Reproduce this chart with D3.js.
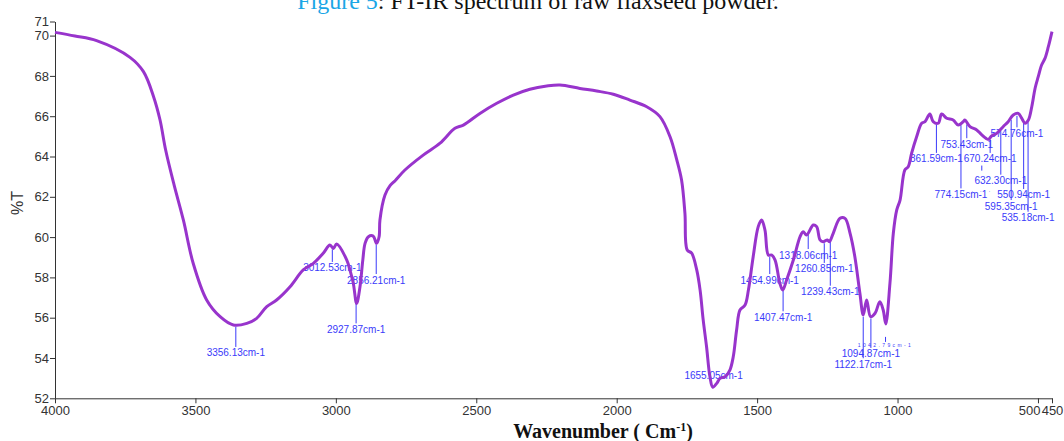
<!DOCTYPE html>
<html>
<head>
<meta charset="utf-8">
<script src="https://cdn.jsdelivr.net/npm/d3@7"></script>
<style>
  body { margin: 0; background: #fff; }
  svg { display: block; }
</style>
</head>
<body>
<div id="chart"></div>
<script>
// spectrum: wavenumber (cm-1) and transmittance (%T)
var wavenumbers = [4000, 3929, 3852, 3733, 3685, 3649, 3626, 3606, 3576, 3543, 3508, 3460, 3412, 3365, 3317, 3282,
  3246, 3211, 3163, 3116, 3080, 3045, 3021, 3009, 2997, 2961, 2950, 2938, 2926, 2914, 2904, 2896, 2884,
  2867, 2855, 2846, 2843, 2825, 2807, 2789, 2754, 2689, 2629, 2576, 2546, 2487, 2427, 2368, 2309, 2249,
  2202, 2131, 2071, 2012, 1953, 1893, 1846, 1810, 1786, 1769, 1757, 1749, 1733, 1715, 1703, 1692, 1680,
  1668, 1658, 1644, 1632, 1614, 1597, 1585, 1573, 1561, 1543, 1531, 1514, 1496, 1484, 1472, 1460, 1448,
  1436, 1419, 1409, 1395, 1371, 1347, 1336, 1324, 1300, 1288, 1276, 1265, 1250, 1243, 1229, 1205, 1187,
  1169, 1152, 1134, 1122, 1110, 1096, 1080, 1063, 1051, 1042, 1027, 1015, 1003, 991, 974, 962, 950, 932,
  914, 902, 885, 873, 855, 843, 825, 802, 784, 766, 760, 742, 718, 700, 677, 665, 647, 624, 606, 588, 570,
  558, 546, 534, 522, 510, 499, 487, 475, 463, 450];
var transmittance = [70.16, 69.98, 69.75, 68.92, 68.21, 66.97, 65.81, 64.32, 62.59, 60.85, 58.70, 56.88, 56.05,
  55.64, 55.72, 55.97, 56.55, 56.88, 57.54, 58.37, 58.70, 59.20, 59.61, 59.44, 59.66, 58.86, 58.37, 57.72,
  56.71, 57.54, 58.86, 59.69, 60.02, 60.05, 59.69, 60.02, 60.85, 62.09, 62.55, 62.80, 63.33, 64.07, 64.66,
  65.40, 65.56, 66.14, 66.64, 67.05, 67.34, 67.50, 67.55, 67.38, 67.25, 67.09, 66.80, 66.47, 65.98, 64.98,
  63.83, 62.83, 61.18, 59.36, 59.20, 58.37, 57.37, 55.89, 54.56, 53.07, 52.55, 52.74, 52.99, 53.07, 53.40,
  54.06, 55.39, 56.38, 56.63, 57.37, 59.03, 60.52, 60.85, 60.35, 59.11, 59.11, 58.86, 57.71, 57.37, 57.87,
  58.86, 60.02, 60.27, 60.10, 60.60, 60.52, 59.86, 59.77, 59.86, 59.77, 60.19, 60.93, 60.93, 60.19, 59.03,
  57.21, 56.13, 56.88, 56.05, 56.22, 56.79, 56.38, 55.69, 57.71, 60.19, 61.34, 61.84, 63.33, 63.49, 64.16,
  64.98, 65.65, 65.73, 66.11, 65.73, 65.65, 66.11, 65.90, 65.81, 65.56, 65.73, 65.81, 65.48, 65.32, 65.07,
  64.85, 65.02, 65.15, 65.48, 65.73, 66.06, 66.14, 65.90, 65.65, 65.81, 66.47, 67.40, 67.96, 68.54, 68.87,
  69.45, 70.20];

// peak annotations: position, text, and the %T level the text sits at
var peakWavenumbers = [3356.13, 3012.53, 2856.21, 2927.87, 1655.05, 1454.99, 1407.47, 1318.06, 1260.85, 1239.43,
  1122.17, 1094.87, 861.59, 670.24, 753.43, 574.76, 774.15, 632.30, 550.94, 595.35, 535.18];
var peakLabels = peakWavenumbers.map(function (w) { return w.toFixed(2) + "cm-1"; });
var peakLabelLevels = [54.25, 58.47, 57.87, 55.42, 53.11, 57.87, 56.02, 59.11, 58.42, 57.29,
  53.69, 54.20, 63.88, 63.88, 64.61, 65.15, 62.12, 62.80, 62.09, 61.54, 60.96];
// squeezed label the instrument software printed with tiny letters
var smallPeak = 1042.79, smallPeakLevel = 54.65;

var xTicks = [4000, 3500, 3000, 2500, 2000, 1500, 1000, 500, 450];
var yTicks = [52, 54, 56, 58, 60, 62, 64, 66, 68, 70];
var yTop = 70.7;

var width = 1064,
  height = 441;

var svg = d3.select("#chart").append("svg")
  .attr("width", width)
  .attr("height", height);

var x = d3.scaleLinear().domain([4000, 450]).range([55, 1052]);
var y = d3.scaleLinear().domain([52, yTop]).range([398.3, 21.5]);

var blue = "rgb(58,58,250)";

// title, cut off at the top of the picture
var title = svg.append("text")
  .attr("x", 538)
  .attr("y", 9)
  .attr("text-anchor", "middle")
  .style("font-family", "'Liberation Serif', 'Times New Roman', serif")
  .style("font-size", "24px");
title.append("tspan").attr("fill", "#1aa6e6").text("Figure 5");
title.append("tspan").attr("fill", "#111").text(": FT-IR spectrum of raw flaxseed powder.");

// axes
var xAxis = d3.axisBottom(x)
  .tickValues(xTicks)
  .tickSize(5)
  .tickSizeOuter(0)
  .tickPadding(2)
  .tickFormat(d3.format("d"));

var yAxis = d3.axisLeft(y)
  .tickValues(yTicks.concat([yTop]))
  .tickSize(5)
  .tickSizeOuter(0)
  .tickPadding(1)
  .tickFormat(d3.format(".0f"));

var gx = svg.append("g")
  .attr("transform", "translate(0," + y(52) + ")")
  .call(xAxis);
var gy = svg.append("g")
  .attr("transform", "translate(" + x(4000) + ",0)")
  .call(yAxis);

[gx, gy].forEach(function (g) {
  g.selectAll("path, line").attr("stroke", "#333");
  g.selectAll("text")
    .attr("fill", "#333")
    .style("font-family", "'Liberation Sans', Arial, sans-serif")
    .style("font-size", "13px");
});
// 500 and 450 sit close together, push 500 to the left of its tick
gx.selectAll(".tick text").filter(function (d) { return d == 500; })
  .attr("text-anchor", "end")
  .attr("dx", "2");

svg.append("text")
  .attr("transform", "translate(23," + 203 + ") rotate(-90)")
  .attr("text-anchor", "middle")
  .attr("fill", "#333")
  .style("font-family", "'Liberation Sans', Arial, sans-serif")
  .style("font-size", "16px")
  .text("%T");

var xTitle = svg.append("text")
  .attr("x", 603)
  .attr("y", 438)
  .attr("text-anchor", "middle")
  .attr("fill", "#111")
  .style("font-family", "'Liberation Serif', 'Times New Roman', serif")
  .style("font-weight", "bold")
  .style("font-size", "20px");
xTitle.append("tspan").text("Wavenumber ( Cm");
xTitle.append("tspan").attr("dy", "-7").style("font-size", "12px").text("-1");
xTitle.append("tspan").attr("dy", "7").text(")");

// value of the spectrum at a wavenumber, to start the label leader lines
var spectrum = wavenumbers.map(function (w, i) { return { w: w, t: transmittance[i] }; });
function curveAt(w) {
  for (var i = 0; i < spectrum.length - 1; i++) {
    var a = spectrum[i], b = spectrum[i + 1];
    if (w <= a.w && w >= b.w) {
      return a.t + (b.t - a.t) * (a.w - w) / (a.w - b.w);
    }
  }
  return spectrum[spectrum.length - 1].t;
}

var peaks = peakWavenumbers.map(function (w, i) {
  return { w: w, label: peakLabels[i], level: peakLabelLevels[i] };
});

var gPeaks = svg.append("g");

gPeaks.selectAll("line")
  .data(peaks.filter(function (d) { return y(curveAt(d.w)) + 2 < y(d.level) - 7; }))
  .enter().append("line")
  .attr("x1", function (d) { return x(d.w); })
  .attr("x2", function (d) { return x(d.w); })
  .attr("y1", function (d) { return y(curveAt(d.w)) + 2; })
  .attr("y2", function (d) { return y(d.level) - 6; })
  .attr("stroke", blue)
  .attr("stroke-width", 1);

gPeaks.selectAll("text")
  .data(peaks)
  .enter().append("text")
  .attr("x", function (d) { return x(d.w); })
  .attr("y", function (d) { return y(d.level); })
  .attr("dy", "0.35em")
  .attr("text-anchor", "middle")
  .attr("fill", blue)
  .style("font-family", "'Liberation Sans', Arial, sans-serif")
  .style("font-size", "10px")
  .text(function (d) { return d.label; });

// tiny squeezed label near 1042 cm-1
gPeaks.append("line")
  .attr("x1", x(smallPeak)).attr("x2", x(smallPeak))
  .attr("y1", y(smallPeakLevel) - 8).attr("y2", y(smallPeakLevel) - 3)
  .attr("stroke", blue).attr("stroke-width", 1);
gPeaks.append("text")
  .attr("x", x(smallPeak))
  .attr("y", y(smallPeakLevel))
  .attr("dy", "0.35em")
  .attr("text-anchor", "middle")
  .attr("fill", blue)
  .style("font-family", "'Liberation Sans', Arial, sans-serif")
  .style("font-size", "5px")
  .style("letter-spacing", "2.4px")
  .text(smallPeak.toFixed(2) + "cm-1");

// a second squeezed label, drawn as dots, around 700 cm-1
gPeaks.append("line")
  .attr("x1", x(700)).attr("x2", x(700))
  .attr("y1", y(63.6) + 1).attr("y2", y(63.3))
  .attr("stroke", blue).attr("stroke-width", 1);
gPeaks.append("text")
  .attr("x", x(700) - 4)
  .attr("y", y(62.2))
  .attr("text-anchor", "middle")
  .attr("fill", blue)
  .style("font-family", "'Liberation Sans', Arial, sans-serif")
  .style("font-size", "6px")
  .style("letter-spacing", "2.5px")
  .text("· · · · · · · ·");

// the spectrum itself, drawn over the labels
var line = d3.line()
  .x(function (d) { return x(d.w); })
  .y(function (d) { return y(d.t); })
  .curve(d3.curveCatmullRom.alpha(0.5));

svg.append("path")
  .datum(spectrum)
  .attr("fill", "none")
  .attr("stroke", "rgb(152,52,204)")
  .attr("stroke-width", 3)
  .attr("stroke-linejoin", "round")
  .attr("d", line);
</script>
</body>
</html>
